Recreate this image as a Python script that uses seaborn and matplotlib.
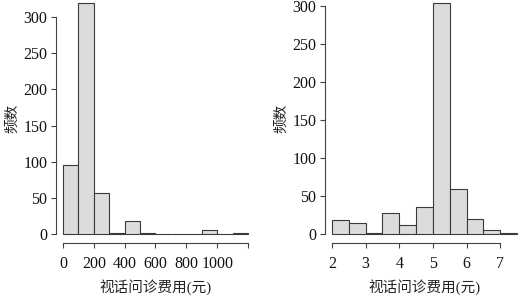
import numpy as np
import pandas as pd
import seaborn as sns
import matplotlib.pyplot as plt

# 左图：视话问诊费用（元），组距 100
fee_edges = [0, 100, 200, 300, 400, 500, 600, 700, 800, 900, 1000, 1100, 1200]
fee_counts = [95, 319, 57, 1, 18, 2, 0, 0, 0, 5, 0, 1]
fee_ticks = [0, 200, 400, 600, 800, 1000, 1200]
fee_ticklabels = ["0", "200", "400", "600", "800", "1000", ""]

# 右图：取对数后的费用，组距 0.5
log_edges = [2, 2.5, 3, 3.5, 4, 4.5, 5, 5.5, 6, 6.5, 7, 7.5]
log_counts = [19, 15, 1, 28, 12, 36, 303, 59, 20, 5, 1]
log_ticks = [2, 3, 4, 5, 6, 7]

y_ticks = [0, 50, 100, 150, 200, 250, 300]

sns.set_theme(style="white")
plt.rcParams["font.family"] = ["Liberation Serif", "Noto Sans CJK SC"]
plt.rcParams["axes.unicode_minus"] = False

fig = plt.figure(figsize=(5.19, 2.97), dpi=100)
ax1 = fig.add_axes([0.1071, 0.181, 0.385, 0.8387])
ax2 = fig.add_axes([0.6254, 0.181, 0.385, 0.8387])


def r_hist(ax, edges, counts, xticks, xticklabels):
    mids = [(a + b) / 2 for a, b in zip(edges[:-1], edges[1:])]
    df = pd.DataFrame({"x": mids, "n": counts})
    sns.histplot(data=df, x="x", weights="n", bins=edges, ax=ax,
                 color="#dcdcdc", edgecolor="#3a3a3a", linewidth=0.8,
                 alpha=1)
    lo, hi = edges[0], edges[-1]
    span = hi - lo
    ax.set_xlim(lo - 0.04 * span, hi + 0.04 * span)
    top = max(counts)
    ax.set_ylim(-0.04 * top, top * 1.04)
    for s in ["top", "right"]:
        ax.spines[s].set_visible(False)
    for s in ["left", "bottom"]:
        ax.spines[s].set_color("#444444")
        ax.spines[s].set_linewidth(0.8)
    ax.spines["left"].set_bounds(0, 300)
    ax.spines["bottom"].set_bounds(xticks[0], xticks[-1])
    ax.set_xticks(xticks)
    ax.set_xticklabels(xticklabels)
    ax.set_yticks(y_ticks)
    ax.tick_params(axis="both", bottom=True, left=True, direction="out",
                   length=3.5, width=0.8, color="#444444", labelsize=11.5,
                   labelcolor="#111111", pad=2.5)
    ax.tick_params(axis="x", pad=6)
    ax.set_xlabel("视话问诊费用(元)", fontsize=10.5, color="#222222", labelpad=5)
    ax.set_ylabel("频数", fontsize=10.5, color="#222222", labelpad=3)
    ax.grid(False)


r_hist(ax1, fee_edges, fee_counts, fee_ticks, fee_ticklabels)
r_hist(ax2, log_edges, log_counts, log_ticks, [str(t) for t in log_ticks])
ax2.set_xlim(1.78, 7.72)

fig.savefig("out.png", dpi=100)
